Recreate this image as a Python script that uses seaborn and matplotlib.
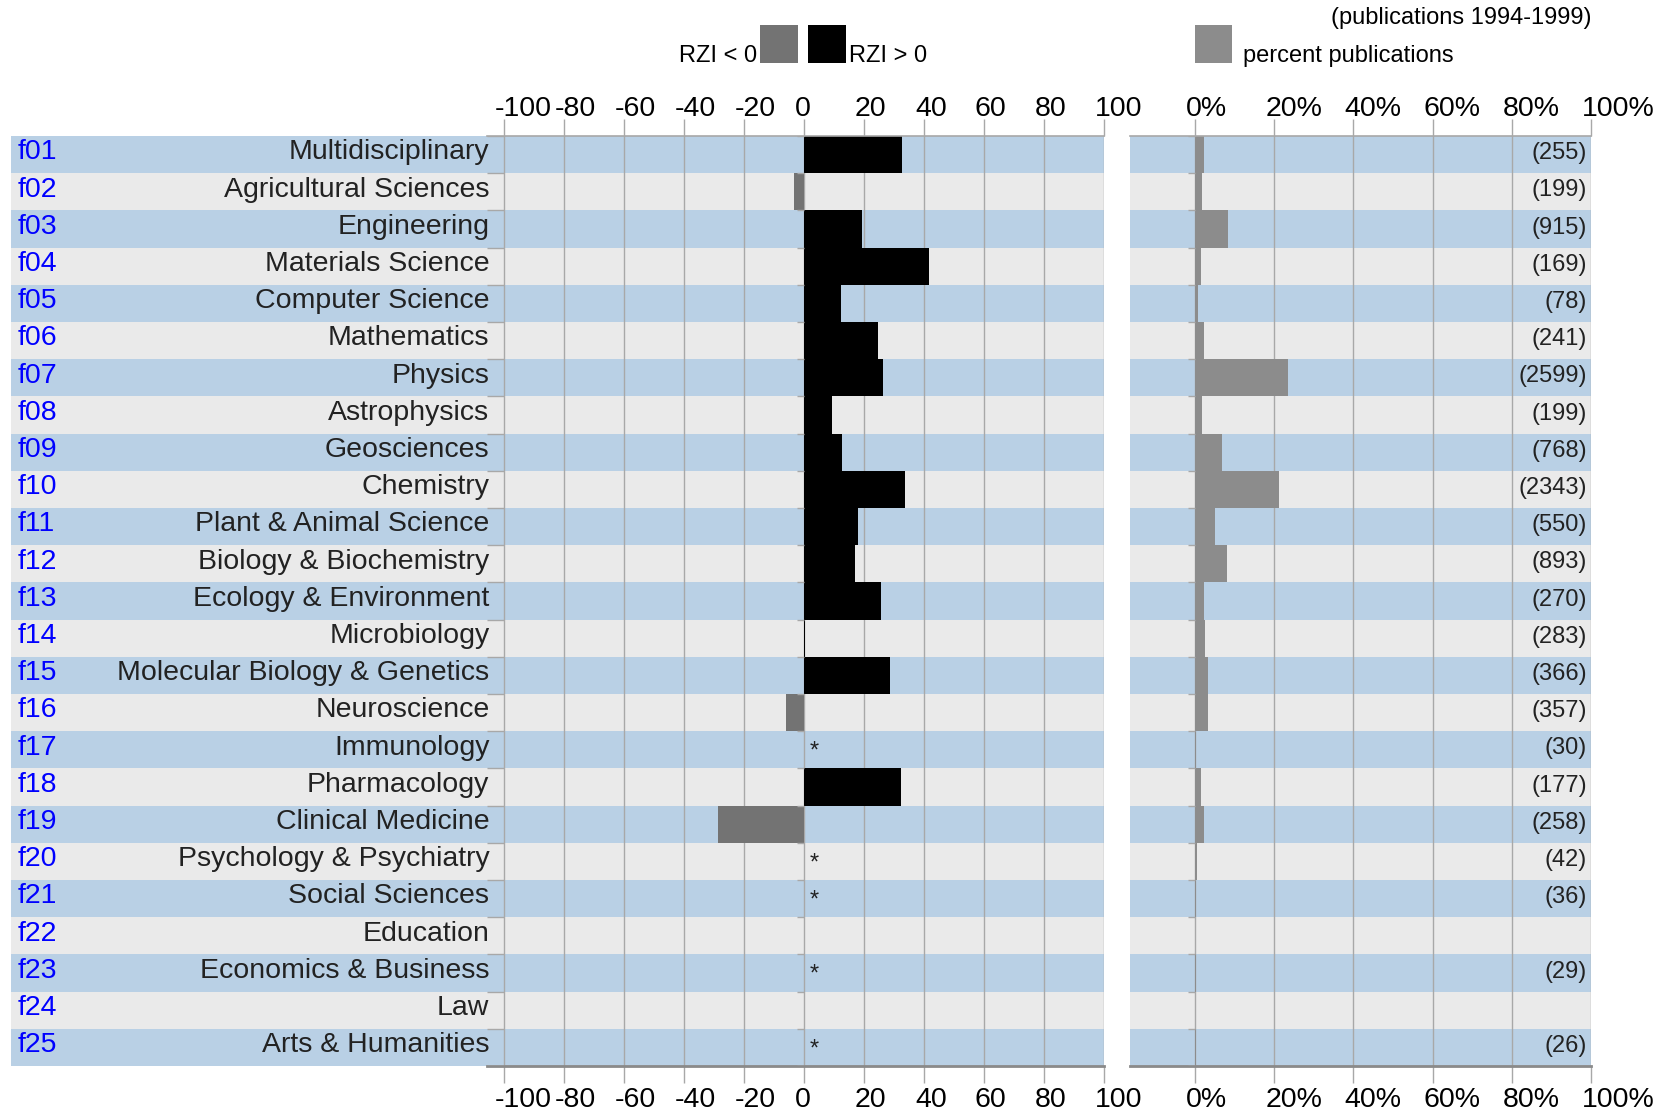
import numpy as np
import pandas as pd
import matplotlib
matplotlib.use("Agg")
import matplotlib.pyplot as plt
from matplotlib.patches import Rectangle
from matplotlib.transforms import ScaledTranslation
import seaborn as sns

plt.rcParams['font.family'] = ['Liberation Sans', 'DejaVu Sans']
plt.rcParams['axes.unicode_minus'] = False

# data
codes = ["f01", "f02", "f03", "f04", "f05", "f06", "f07", "f08", "f09", "f10",
         "f11", "f12", "f13", "f14", "f15", "f16", "f17", "f18", "f19", "f20",
         "f21", "f22", "f23", "f24", "f25"]
fields = ["Multidisciplinary", "Agricultural Sciences", "Engineering", "Materials Science",
          "Computer Science", "Mathematics", "Physics", "Astrophysics", "Geosciences",
          "Chemistry", "Plant & Animal Science", "Biology & Biochemistry",
          "Ecology & Environment", "Microbiology", "Molecular Biology & Genetics",
          "Neuroscience", "Immunology", "Pharmacology", "Clinical Medicine",
          "Psychology & Psychiatry", "Social Sciences", "Education",
          "Economics & Business", "Law", "Arts & Humanities"]
nan = np.nan
rzi = [32.6, -3.4, 19.2, 41.6, 12.2, 24.6, 26.2, 9.2, 12.6, 33.6,
       17.9, 16.9, 25.6, 0.4, 28.6, -6.1, nan, 32.2, -28.6, nan,
       nan, nan, nan, nan, nan]
# "*" = too few publications for an RZI value
starred = ["f17", "f20", "f21", "f23", "f25"]
pct = [2.3, 1.8, 8.3, 1.5, 0.7, 2.2, 23.5, 1.8, 6.9, 21.1,
       5.0, 8.1, 2.4, 2.6, 3.3, 3.2, 0.3, 1.6, 2.3, 0.4,
       0.3, 0.0, 0.3, 0.0, 0.2]
npub = [255, 199, 915, 169, 78, 241, 2599, 199, 768, 2343,
        550, 893, 270, 283, 366, 357, 30, 177, 258, 42,
        36, None, 29, None, 26]

df = pd.DataFrame({"code": codes, "field": fields, "rzi": rzi, "pct": pct})
df["sign"] = np.where(df["rzi"] < 0, "neg", "pos")

BLUE = "#B9D0E5"
GREY = "#EAEAEA"
GRID = "#A8A8A8"
W, H = 1660, 1115


def box(x0, y0, x1, y1):
    return [x0 / W, 1 - y1 / H, (x1 - x0) / W, (y1 - y0) / H]


fig = plt.figure(figsize=(16.6, 11.15), dpi=100)
axL = fig.add_axes(box(11, 136, 1104, 1066))
axR = fig.add_axes(box(1130, 136, 1591, 1066))

n = len(codes)
for ax in (axL, axR):
    for i in range(n):
        ax.axhspan(i - 0.5, i + 0.5, color=BLUE if i % 2 == 0 else GREY, lw=0, zorder=0.1)

# left panel: RZI
sns.barplot(data=df, x="rzi", y="code", order=codes, hue="sign",
            palette={"neg": "#737373", "pos": "#000000"}, dodge=False, width=1.0,
            errorbar=None, legend=False, linewidth=0, saturation=1, ax=axL)
axL.set_xlim(-264.2, 100)
axL.set_xticks(range(-100, 101, 20))

# right panel: share of publications
sns.barplot(data=df, x="pct", y="code", order=codes, color="#8C8C8C", width=1.0,
            errorbar=None, linewidth=0, saturation=1, ax=axR)
axR.set_xlim(-16.4, 100)
axR.set_xticks(range(0, 101, 20), labels=["%d%%" % t for t in range(0, 101, 20)])

for ax in (axL, axR):
    ax.set_ylim(n - 0.5, -0.5)
    ax.set_xlabel("")
    ax.set_ylabel("")
    ax.set_axisbelow(True)
    ax.grid(axis="x", color=GRID, lw=1)
    ax.grid(axis="y", visible=False)
    ax.tick_params(axis="x", top=True, labeltop=True, bottom=True, labelbottom=True,
                   length=12.5, width=1, color=GRID, labelsize=20.5, pad=1.3)
    ax.tick_params(axis="y", left=False, labelleft=False)
    for s in ax.spines.values():
        s.set_visible(False)
    # labels start a little left of their grid line, as in the original
    for t in ax.xaxis.get_major_ticks():
        t.label1.set_ha("left")
        t.label2.set_ha("left")
        t.label1.set_transform(t.label1.get_transform() +
                               ScaledTranslation(-0.09, -0.02, fig.dpi_scale_trans))
        t.label2.set_transform(t.label2.get_transform() +
                               ScaledTranslation(-0.09, -0.05, fig.dpi_scale_trans))

bounds = [i + 0.5 for i in range(-1, n)]
axL.plot([-105.5, 100], [-0.5, -0.5], color=GRID, lw=1.2, clip_on=False, zorder=3)
axL.plot([-105.5, 100], [n - 0.5, n - 0.5], color="#8A8A8A", lw=2, clip_on=False, zorder=3)
axL.hlines(bounds, -105.5, -100, color=GRID, lw=1, zorder=3)
axL.hlines(bounds, -2.3, 0, color=GRID, lw=1, zorder=3)
axR.plot([-16.4, 100], [-0.5, -0.5], color=GRID, lw=1.2, clip_on=False, zorder=3)
axR.plot([-16.4, 100], [n - 0.5, n - 0.5], color="#8A8A8A", lw=2, clip_on=False, zorder=3)
axR.hlines(bounds, -1.8, 0, color=GRID, lw=1, zorder=3)

for i, (c, f) in enumerate(zip(codes, fields)):
    axL.text(-261.9, i - 0.06, c, color="#0000FF", fontsize=20.5, ha="left", va="center")
    axL.text(-104.8, i - 0.06, f, color="#222222", fontsize=20.5, ha="right", va="center")
    if c in starred:
        axL.text(3.6, i + 0.05, "*", color="#222222", fontsize=17, ha="center", va="center")
    if npub[i] is not None:
        axR.text(99, i - 0.04, "(%d)" % npub[i], color="#222222", fontsize=17,
                 ha="right", va="center")

# legend
fig.add_artist(Rectangle((760 / W, 1 - 63 / H), 38 / W, 38 / H, transform=fig.transFigure,
                         color="#737373", lw=0))
fig.add_artist(Rectangle((808 / W, 1 - 63 / H), 38 / W, 38 / H, transform=fig.transFigure,
                         color="#000000", lw=0))
fig.add_artist(Rectangle((1195 / W, 1 - 63 / H), 37 / W, 38 / H, transform=fig.transFigure,
                         color="#8C8C8C", lw=0))
fig.text(757 / W, 1 - 62 / H, "RZI < 0", fontsize=17, ha="right", va="baseline")
fig.text(849 / W, 1 - 62 / H, "RZI > 0", fontsize=17, ha="left", va="baseline")
fig.text(1243 / W, 1 - 62 / H, "percent publications", fontsize=17, ha="left", va="baseline")
fig.text(1591 / W, 1 - 24 / H, "(publications 1994-1999)", fontsize=17, ha="right", va="baseline")

fig.savefig("out.png", dpi=100)
